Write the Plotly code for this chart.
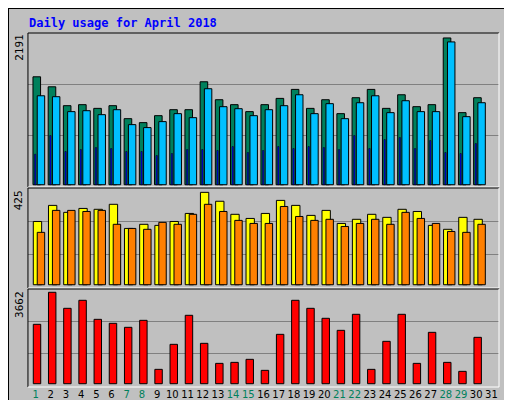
import plotly.graph_objects as go

days = list(range(1, 32))
weekend = [1, 7, 8, 14, 15, 21, 22, 28, 29]

hits = [1611, 1462, 1180, 1195, 1140, 1180, 986, 927, 1031, 1120, 1120, 1537, 1269, 1195, 1091,
        1195, 1289, 1423, 1140, 1269, 1061, 1299, 1423, 1140, 1343, 1165, 1195, 2191, 1076, 1299]
files = [1328, 1314, 1091, 1105, 1046, 1120, 897, 853, 942, 1061, 1001, 1433, 1165, 1135, 1031,
         1120, 1180, 1343, 1061, 1210, 986, 1224, 1328, 1076, 1254, 1091, 1091, 2132, 1016, 1224]
pages = [456, 734, 496, 525, 555, 540, 496, 496, 436, 466, 525, 525, 511, 570, 481,
         511, 570, 540, 570, 555, 525, 734, 540, 674, 704, 540, 659, 481, 466, 615]
visits = [291, 365, 333, 351, 347, 370, 259, 278, 273, 291, 328, 425, 384, 324, 305,
          328, 388, 365, 319, 342, 282, 301, 324, 310, 347, 337, 273, 255, 310, 301]
sites = [241, 342, 342, 337, 342, 278, 259, 255, 287, 278, 324, 370, 337, 296, 282,
         282, 360, 314, 296, 301, 268, 282, 301, 278, 333, 305, 282, 245, 241, 278]
kbytes = [2379, 3662, 3020, 3341, 2579, 2419, 2259, 2539, 575, 1577, 2740, 1617, 815, 855, 976,
          535, 1978, 3341, 3020, 2620, 2138, 2780, 575, 1697, 2780, 815, 2058, 855, 495, 1858]

x = days[:30]
line = dict(color="black", width=1)

fig = go.Figure()
fig.add_bar(x=x, y=hits, marker=dict(color="#00805C", line=line), width=0.5, offset=-0.17, yaxis="y")
fig.add_bar(x=x, y=files, marker=dict(color="#00C0FF", line=line), width=0.49, offset=0.11, yaxis="y")
fig.add_bar(x=x, y=pages, marker=dict(color="#0000FF", line=dict(color="black", width=0.5)), width=0.09, offset=-0.07, yaxis="y")
fig.add_bar(x=x, y=visits, marker=dict(color="#FFFF00", line=line), width=0.55, offset=-0.15, yaxis="y2")
fig.add_bar(x=x, y=sites, marker=dict(color="#FF8000", line=line), width=0.49, offset=0.11, yaxis="y2")
fig.add_bar(x=x, y=kbytes, marker=dict(color="#FF0000", line=line), width=0.49, offset=-0.15, yaxis="y3")

ticktext = [f"<span style='color:{'#00805C' if d in weekend else 'black'}'>{d}</span>" for d in days]
yax = dict(showticklabels=False, ticks="", gridcolor="#808080", gridwidth=1, zeroline=False,
           showline=False, fixedrange=True, automargin=False)

fig.update_layout(
    width=512, height=400, margin=dict(l=0, r=0, t=0, b=0, autoexpand=False),
    paper_bgcolor="#C0C0C0", plot_bgcolor="#C0C0C0",
    barmode="overlay", showlegend=False,
    font=dict(family="DejaVu Sans Mono", size=11, color="black"),
    xaxis=dict(domain=[0.039, 0.959], range=[0.5, 31.5], tickvals=days, ticktext=ticktext,
               tickangle=0, automargin=False, ticks="", showgrid=False, zeroline=False,
               anchor="y3", tickfont=dict(size=10, family="DejaVu Sans")),
    yaxis=dict(domain=[0.5525, 0.9375], range=[-34, 2265], tickvals=[734, 1492], **yax),
    yaxis2=dict(domain=[0.30, 0.55], range=[-15, 445], tickvals=[138, 292], **yax),
    yaxis3=dict(domain=[0.0525, 0.2975], range=[-132, 3794], tickvals=[1203, 2502], **yax),
)

# panel frames
for y0, y1 in [(0.5525, 0.9375), (0.30, 0.55), (0.0525, 0.2975)]:
    fig.add_shape(type="line", xref="paper", yref="paper", x0=0.039, x1=0.039, y0=y0, y1=y1, line=dict(color="black", width=1))
    fig.add_shape(type="line", xref="paper", yref="paper", x0=0.039, x1=0.959, y0=y1, y1=y1, line=dict(color="black", width=1))
    fig.add_shape(type="line", xref="paper", yref="paper", x0=0.959, x1=0.959, y0=y0, y1=y1, line=dict(color="white", width=1))
    fig.add_shape(type="line", xref="paper", yref="paper", x0=0.039, x1=0.959, y0=y0, y1=y0, line=dict(color="white", width=1))
fig.add_shape(type="rect", xref="paper", yref="paper", x0=0, x1=1, y0=0, y1=1, line=dict(color="black", width=2))

fig.add_annotation(text="<b>Daily usage for April 2018</b>", xref="paper", yref="paper", x=0.037, y=0.985,
                   xanchor="left", yanchor="top", showarrow=False, font=dict(color="#0000FF", size=12))

for label, ytop in [("2191", 0.94), ("425", 0.55), ("3662", 0.297)]:
    fig.add_annotation(text=label, textangle=-90, xref="paper", yref="paper", x=0.022, y=ytop,
                       xanchor="center", yanchor="top", showarrow=False, font=dict(size=11))

right = [
    ("<span style='color:#00C0FF'>Pages</span> / <span style='color:#0000FF'>Files</span> / <span style='color:#00805C'>Hits</span>", 0.94),
    ("<span style='color:#FF8000'>Sites</span> / <span style='color:#FFFF00'>Visits</span>", 0.55),
    ("<span style='color:#FF0000'>kB F</span> / <span style='color:#0000FF'>kB In</span> / <span style='color:#00805C'>kB Out</span>", 0.297),
]
for label, ytop in right:
    fig.add_annotation(text=label, textangle=-90, xref="paper", yref="paper", x=0.98, y=ytop,
                       xanchor="center", yanchor="top", showarrow=False, font=dict(size=11))

fig.write_html("out.html")
